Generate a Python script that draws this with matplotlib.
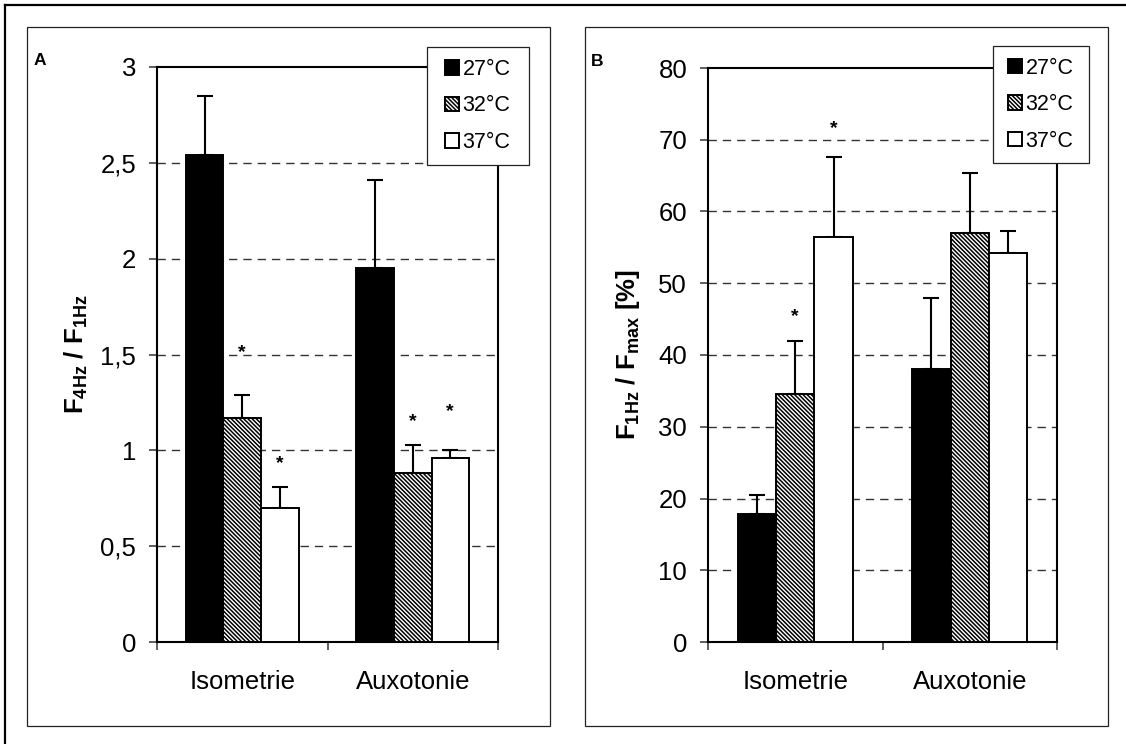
#
# temperature dependence of force ratios, panels A and B
#
import numpy as np
import matplotlib.pyplot as plt
from matplotlib.patches import Rectangle
from matplotlib.lines import Line2D

plt.rcParams['font.family'] = ['Liberation Sans', 'DejaVu Sans']
plt.rcParams['mathtext.fontset'] = 'custom'
plt.rcParams['mathtext.rm'] = 'Liberation Sans'
plt.rcParams['mathtext.bf'] = 'Liberation Sans:bold'
plt.rcParams['hatch.linewidth'] = 1.1

#
# data
#
groups = ['Isometrie', 'Auxotonie']
temps = ['27°C', '32°C', '37°C']

# panel A: F4Hz / F1Hz
a_27 = [2.54, 1.95]
a_32 = [1.17, 0.88]
a_37 = [0.70, 0.96]
a_27_err = [0.31, 0.46]
a_32_err = [0.12, 0.15]
a_37_err = [0.11, 0.04]
a_stars = [[None, None], [1.51, 1.15], [0.93, 1.20]]   # per temp, per group
a_ticks = [0, 0.5, 1, 1.5, 2, 2.5, 3]
a_ticklabels = ['0', '0,5', '1', '1,5', '2', '2,5', '3']

# panel B: F1Hz / Fmax [%]
b_27 = [17.8, 38.1]
b_32 = [34.5, 57.0]
b_37 = [56.5, 54.2]
b_27_err = [2.7, 9.9]
b_32_err = [7.4, 8.3]
b_37_err = [11.1, 3.1]
b_stars = [[None, None], [45.3, None], [71.6, None]]
b_ticks = [0, 10, 20, 30, 40, 50, 60, 70, 80]
b_ticklabels = [str(t) for t in b_ticks]

W, H = 1126, 744
fig = plt.figure(figsize=(W / 100, H / 100), dpi=100)

# outer frame (only top/left visible) and panel frames
fig.add_artist(Line2D([5 / W, 1], [1 - 5 / H, 1 - 5 / H], color='black', lw=1.6))
fig.add_artist(Line2D([5 / W, 5 / W], [0, 1 - 5 / H], color='black', lw=1.6))
for x0 in [27, 585]:
    fig.add_artist(Rectangle((x0 / W, 18 / H), 523 / W, 699 / H, fill=False,
                             edgecolor='#222222', lw=0.9))

fills = ['black', 'white', 'white']
hatches = [None, '\\' * 8, None]
width = 0.22
offsets = [-width, 0, width]


def panel(ax, vals, errs, stars, ticks, ticklabels, ylabel, lab_x, leg_box, letter, let_x):
    x = np.arange(len(groups))
    for i in range(3):
        ax.bar(x + offsets[i], vals[i], width, color=fills[i], hatch=hatches[i],
               edgecolor='black', linewidth=1.4, zorder=3, label=temps[i])
        ax.errorbar(x + offsets[i], vals[i], yerr=[np.zeros(len(x)), errs[i]],
                    fmt='none', ecolor='black', elinewidth=1.5, capsize=5.5,
                    capthick=1.5, zorder=2)
        for j in range(len(x)):
            if stars[i][j] is not None:
                ax.text(x[j] + offsets[i], stars[i][j], '*', ha='center', va='center',
                        fontsize=14, fontweight='bold', zorder=4)

    ax.set_xlim(-0.5, 1.5)
    ax.set_ylim(ticks[0], ticks[-1])
    ax.set_yticks(ticks)
    ax.set_yticklabels(ticklabels, fontsize=18.5)
    ax.set_xticks([-0.5, 0.5, 1.5])
    ax.set_xticklabels([])
    ax.set_xticks(x, minor=True)
    ax.set_xticklabels(groups, minor=True, fontsize=18.5)
    ax.tick_params(axis='x', which='major', direction='out', length=6, width=1.2,
                   color='#444444')
    ax.tick_params(axis='x', which='minor', length=0, pad=20)
    ax.tick_params(axis='y', direction='out', length=6, width=1.2, pad=9,
                   color='#444444')
    for s in ax.spines.values():
        s.set_linewidth(1.5)
    for t in ticks[1:-1]:
        ax.axhline(t, color='#333333', lw=1.0, dashes=(6, 4.3), zorder=1)

    ax.set_ylabel(ylabel, fontsize=18.5, fontweight='bold', va='center')
    ax.yaxis.set_label_coords(lab_x, 0.5)

    # legend with its own frame
    bx, by, bw, bh = leg_box
    ax.add_patch(Rectangle((bx, by), bw, bh, transform=ax.transAxes, facecolor='white',
                           edgecolor='#222222', lw=0.9, clip_on=False, zorder=5))
    leg = ax.legend(loc='center', bbox_to_anchor=(bx + bw / 2, by + bh / 2),
                    frameon=False, fontsize=15.5, handlelength=0.65, handleheight=0.65,
                    handletextpad=0.15, labelspacing=0.72, borderpad=0)
    leg.set_zorder(6)

    ax.text(let_x, 1.012, letter, transform=ax.transAxes, fontsize=12.5,
            fontweight='bold', ha='center', va='center')


axA = fig.add_axes([157 / W, 102 / H, 341 / W, 575 / H])
panel(axA, [a_27, a_32, a_37], [a_27_err, a_32_err, a_37_err], a_stars,
      a_ticks, a_ticklabels, r'F$_\mathbf{4Hz}$ / F$_\mathbf{1Hz}$', -0.2375,
      (0.7918, 0.8296, 0.2991, 0.2052), 'A', -0.343)

axB = fig.add_axes([708 / W, 102 / H, 349 / W, 574 / H])
panel(axB, [b_27, b_32, b_37], [b_27_err, b_32_err, b_37_err], b_stars,
      b_ticks, b_ticklabels, r'F$_\mathbf{1Hz}$ / F$_\mathbf{max}$ [%]', -0.2292,
      (0.8166, 0.8345, 0.2751, 0.2038), 'B', -0.318)

fig.savefig('out.png', dpi=100)
